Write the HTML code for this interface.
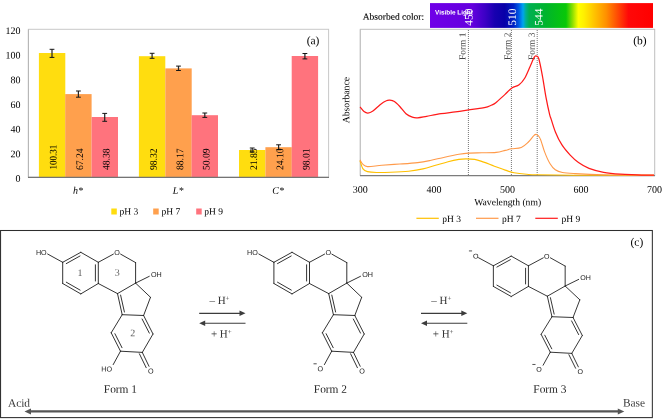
<!DOCTYPE html>
<html><head><meta charset="utf-8">
<title>Figure</title>
<style>
html,body{margin:0;padding:0;background:#fff;}
svg{display:block;will-change:transform;text-rendering:geometricPrecision;font-family:"Liberation Serif",serif;}
</style></head><body>
<svg width="670" height="419" viewBox="0 0 670 419">
<defs>
<linearGradient id="sp" x1="0" x2="1" y1="0" y2="0">
<stop offset="0" stop-color="#7000e8"/>
<stop offset="0.19" stop-color="#6400de"/>
<stop offset="0.25" stop-color="#3a00c4"/>
<stop offset="0.29" stop-color="#1800b0"/>
<stop offset="0.335" stop-color="#0800a8"/>
<stop offset="0.375" stop-color="#0020c4"/>
<stop offset="0.398" stop-color="#0058e4"/>
<stop offset="0.417" stop-color="#00a4f0"/>
<stop offset="0.43" stop-color="#00b090"/>
<stop offset="0.445" stop-color="#00b052"/>
<stop offset="0.52" stop-color="#00b42c"/>
<stop offset="0.61" stop-color="#08c808"/>
<stop offset="0.64" stop-color="#90e000"/>
<stop offset="0.665" stop-color="#ffff00"/>
<stop offset="0.69" stop-color="#fff000"/>
<stop offset="0.79" stop-color="#ff9000"/>
<stop offset="0.89" stop-color="#ff0808"/>
<stop offset="1" stop-color="#ff0000"/>
</linearGradient>
</defs>
<rect width="670" height="419" fill="#fff"/>
<!-- (a) bar chart -->
<rect x="28.4" y="29.3" width="300.2" height="148" fill="#fff" stroke="#c8c8c8" stroke-width="1"/>
<rect x="38.9" y="53.0" width="26.4" height="124.3" fill="#ffdd0f"/>
<path d="M52.0 49.3 V57.4" stroke="#262626" stroke-width="1.25" fill="none"/><path d="M49.6 49.3 h4.8 M49.6 57.4 h4.8" stroke="#161616" stroke-width="1" fill="none"/>
<text transform="translate(56.6,169.4) rotate(-89.95) scale(1,1.12)" font-size="9" text-anchor="start">100.31</text>
<rect x="65.2" y="94.1" width="26.4" height="83.2" fill="#ffa04d"/>
<path d="M78.4 91.0 V97.2" stroke="#262626" stroke-width="1.25" fill="none"/><path d="M76.0 91.0 h4.8 M76.0 97.2 h4.8" stroke="#161616" stroke-width="1" fill="none"/>
<text transform="translate(83.1,170.1) rotate(-89.95) scale(1,1.05)" font-size="9.6" text-anchor="start">67.24</text>
<rect x="91.6" y="117.0" width="26.4" height="60.3" fill="#ff737d"/>
<path d="M104.7 113.4 V121.3" stroke="#262626" stroke-width="1.25" fill="none"/><path d="M102.3 113.4 h4.8 M102.3 121.3 h4.8" stroke="#161616" stroke-width="1" fill="none"/>
<text transform="translate(109.4,170.1) rotate(-89.95) scale(1,1.05)" font-size="9.6" text-anchor="start">48.38</text>
<text transform="translate(78.0,193.7) rotate(0.05)" font-size="10" font-style="italic" text-anchor="middle">h*</text>
<rect x="138.9" y="56.2" width="26.4" height="121.1" fill="#ffdd0f"/>
<path d="M152.1 53.3 V58.3" stroke="#262626" stroke-width="1.25" fill="none"/><path d="M149.7 53.3 h4.8 M149.7 58.3 h4.8" stroke="#161616" stroke-width="1" fill="none"/>
<text transform="translate(156.8,170.1) rotate(-89.95) scale(1,1.05)" font-size="9.6" text-anchor="start">98.32</text>
<rect x="165.3" y="68.4" width="26.4" height="108.9" fill="#ffa04d"/>
<path d="M178.5 66.1 V70.5" stroke="#262626" stroke-width="1.25" fill="none"/><path d="M176.1 66.1 h4.8 M176.1 70.5 h4.8" stroke="#161616" stroke-width="1" fill="none"/>
<text transform="translate(183.2,170.1) rotate(-89.95) scale(1,1.05)" font-size="9.6" text-anchor="start">88.17</text>
<rect x="191.6" y="115.2" width="26.4" height="62.1" fill="#ff737d"/>
<path d="M204.8 113.0 V117.4" stroke="#262626" stroke-width="1.25" fill="none"/><path d="M202.4 113.0 h4.8 M202.4 117.4 h4.8" stroke="#161616" stroke-width="1" fill="none"/>
<text transform="translate(209.5,170.1) rotate(-89.95) scale(1,1.05)" font-size="9.6" text-anchor="start">50.09</text>
<text transform="translate(178.1,193.7) rotate(0.05)" font-size="10" font-style="italic" text-anchor="middle">L*</text>
<rect x="239.0" y="150.0" width="26.4" height="27.3" fill="#ffdd0f"/>
<path d="M252.2 148.0 V152.0" stroke="#262626" stroke-width="1.25" fill="none"/><path d="M249.8 148.0 h4.8 M249.8 152.0 h4.8" stroke="#161616" stroke-width="1" fill="none"/>
<text transform="translate(256.9,170.1) rotate(-89.95) scale(1,1.05)" font-size="9.6" text-anchor="start">21.85</text>
<rect x="265.4" y="147.2" width="26.4" height="30.1" fill="#ffa04d"/>
<path d="M278.6 144.8 V149.7" stroke="#262626" stroke-width="1.25" fill="none"/><path d="M276.2 144.8 h4.8 M276.2 149.7 h4.8" stroke="#161616" stroke-width="1" fill="none"/>
<text transform="translate(283.3,170.1) rotate(-89.95) scale(1,1.05)" font-size="9.6" text-anchor="start">24.10</text>
<rect x="291.7" y="56.0" width="26.4" height="121.3" fill="#ff737d"/>
<path d="M304.9 53.5 V58.9" stroke="#262626" stroke-width="1.25" fill="none"/><path d="M302.5 53.5 h4.8 M302.5 58.9 h4.8" stroke="#161616" stroke-width="1" fill="none"/>
<text transform="translate(309.6,170.1) rotate(-89.95) scale(1,1.05)" font-size="9.6" text-anchor="start">98.01</text>
<text transform="translate(278.2,193.7) rotate(0.05)" font-size="10" font-style="italic" text-anchor="middle">C*</text>
<path d="M28.4 29.5 V177.3" stroke="#b4b4b4" stroke-width="1"/>
<path d="M28 177.3 H329" stroke="#747474" stroke-width="1.3"/>
<text transform="translate(20.5,181.8) rotate(0.05)" font-size="10" text-anchor="end">0</text>
<text transform="translate(20.5,157.2) rotate(0.05)" font-size="10" text-anchor="end">20</text>
<text transform="translate(20.5,132.5) rotate(0.05)" font-size="10" text-anchor="end">40</text>
<text transform="translate(20.5,107.9) rotate(0.05)" font-size="10" text-anchor="end">60</text>
<text transform="translate(20.5,83.3) rotate(0.05)" font-size="10" text-anchor="end">80</text>
<text transform="translate(20.5,58.6) rotate(0.05)" font-size="10" text-anchor="end">100</text>
<text transform="translate(20.5,34.0) rotate(0.05)" font-size="10" text-anchor="end">120</text>
<text transform="translate(313,44.2) rotate(0.05)" font-size="11.5" text-anchor="middle">(a)</text>
<rect x="111.3" y="208.5" width="5.5" height="6" fill="#ffdd0f"/><text transform="translate(119.6,214.6) rotate(0.05)" font-size="9.5">pH 3</text>
<rect x="153.2" y="208.5" width="5.5" height="6" fill="#ffa04d"/><text transform="translate(161.6,214.6) rotate(0.05)" font-size="9.5">pH 7</text>
<rect x="196.2" y="208.5" width="5.5" height="6" fill="#ff737d"/><text transform="translate(204.2,214.6) rotate(0.05)" font-size="9.5">pH 9</text>
<!-- (b) spectra -->
<text transform="translate(362.7,19.8) rotate(0.05)" font-size="9.5" stroke="#000" stroke-width="0.12">Absorbed color:</text>
<rect x="430" y="3.1" width="223" height="24.8" fill="url(#sp)"/>
<text transform="translate(435,14.4) rotate(0.05)" font-family="Liberation Sans, sans-serif" font-weight="bold" font-size="6.4" fill="#fff">Visible Light</text>
<g font-size="11.5" fill="#fff">
<text transform="translate(472.5,25.7) rotate(-89.95)">450</text>
<text transform="translate(515.9,25.7) rotate(-89.95)">510</text>
<text transform="translate(542.4,25.7) rotate(-89.95)">544</text>
</g>
<rect x="360.3" y="29.3" width="294.4" height="146.2" fill="#fff" stroke="#bebebe" stroke-width="1"/>
<g stroke="#505050" stroke-width="0.8" stroke-dasharray="1 1" fill="none">
<path d="M468.4 30 V175.5"/><path d="M511.4 30 V175.5"/><path d="M537.2 30 V175.5"/>
</g>
<g font-size="9.4" fill="#444">
<text transform="translate(465.4,32.6) rotate(-89.95)" text-anchor="end">Form 1</text>
<text transform="translate(510.4,32.6) rotate(-89.95)" text-anchor="end">Form 2</text>
<text transform="translate(534.8,32.6) rotate(-89.95)" text-anchor="end">Form 3</text>
</g>
<path d="M360.3 29.5 V175.5" stroke="#c4c4c4" stroke-width="1"/>
<path d="M360 175.6 H655" stroke="#7c7c7c" stroke-width="1.4"/>
<path d="M360.0 160.8 C360.5 162.2 361.8 167.1 363.0 168.9 C364.2 170.7 365.2 171.0 367.5 171.6 C369.8 172.2 372.6 172.4 376.5 172.5 C380.4 172.6 385.4 172.5 390.8 172.3 C396.2 172.1 403.3 171.8 408.7 171.2 C414.1 170.6 418.5 169.9 423.0 168.9 C427.5 167.9 431.4 166.5 435.6 165.3 C439.8 164.1 444.2 162.7 448.1 161.7 C452.0 160.7 455.9 159.9 458.9 159.4 C461.9 158.9 463.4 158.9 466.0 158.9 C468.6 158.9 471.8 158.9 474.7 159.4 C477.6 159.9 480.4 161.0 483.7 162.1 C487.0 163.2 490.8 164.9 494.4 166.2 C498.0 167.5 501.9 169.0 505.2 170.1 C508.5 171.2 510.5 172.1 514.1 172.8 C517.7 173.5 522.7 174.0 526.6 174.3 C530.5 174.6 529.3 174.7 537.4 174.8 C545.5 175.0 555.6 175.1 575.0 175.2 C594.4 175.3 640.8 175.3 654.0 175.3" fill="none" stroke="#ffc000" stroke-width="1.15"/>
<path d="M360.0 159.9 C360.5 160.7 361.8 163.3 363.0 164.4 C364.2 165.5 364.4 166.4 367.5 166.6 C370.6 166.8 376.5 165.7 381.9 165.3 C387.3 164.9 393.8 164.4 399.8 164.0 C405.8 163.6 412.6 163.2 417.7 162.6 C422.8 162.0 425.7 161.4 430.2 160.5 C434.7 159.6 439.8 158.2 444.6 157.2 C449.4 156.1 454.9 154.9 458.9 154.2 C462.9 153.5 464.6 153.3 468.4 153.1 C472.2 152.9 477.3 152.9 481.9 152.8 C486.5 152.7 492.3 152.8 496.2 152.4 C500.1 152.0 502.6 151.0 505.2 150.4 C507.8 149.8 508.9 149.3 511.6 148.8 C514.3 148.3 518.5 148.5 521.3 147.4 C524.1 146.3 526.3 143.9 528.4 142.0 C530.5 140.1 532.4 136.9 533.8 135.7 C535.1 134.4 535.5 134.1 536.5 134.5 C537.5 134.9 538.8 135.5 540.1 138.4 C541.5 141.3 543.0 147.7 544.6 151.9 C546.2 156.1 548.1 160.5 549.9 163.5 C551.7 166.5 553.2 168.3 555.3 169.8 C557.4 171.3 559.2 171.9 562.5 172.5 C565.8 173.1 568.1 173.2 575.0 173.6 C581.9 174.0 590.4 174.5 603.6 174.8 C616.8 175.1 645.6 175.1 654.0 175.2" fill="none" stroke="#ff9a4a" stroke-width="1.1"/>
<path d="M360.0 106.9 C360.7 107.7 362.7 110.5 364.0 111.5 C365.3 112.5 366.4 113.2 367.9 113.1 C369.4 113.0 370.9 112.4 372.9 111.0 C374.9 109.6 377.9 106.4 380.1 104.7 C382.3 103.0 384.7 101.5 386.3 100.8 C387.9 100.0 388.5 100.1 389.9 100.2 C391.2 100.3 392.8 100.5 394.4 101.5 C396.0 102.5 397.9 104.5 399.8 106.5 C401.7 108.5 403.9 111.9 406.0 113.7 C408.1 115.5 410.4 116.5 412.3 117.2 C414.2 117.9 415.3 118.0 417.7 117.8 C420.1 117.6 422.7 117.0 426.6 116.3 C430.5 115.6 436.2 114.4 441.0 113.7 C445.8 113.0 450.7 112.5 455.3 111.9 C459.9 111.3 464.6 110.5 468.4 109.9 C472.2 109.4 475.5 108.9 477.9 108.6 C480.3 108.3 481.4 108.2 483.0 107.9 C484.6 107.6 486.0 107.3 487.5 106.8 C489.0 106.3 490.4 105.7 491.8 105.0 C493.2 104.3 493.6 104.4 495.8 102.7 C498.0 101.0 502.1 97.0 504.8 94.6 C507.5 92.1 509.5 89.6 511.9 88.0 C514.3 86.4 517.0 86.4 519.1 84.8 C521.2 83.2 522.7 81.5 524.5 78.5 C526.3 75.5 528.3 70.5 529.9 66.9 C531.5 63.4 533.2 59.0 534.3 57.2 C535.4 55.4 535.5 55.8 536.3 56.1 C537.0 56.4 537.8 55.5 538.8 58.8 C539.8 62.1 541.2 69.4 542.4 75.8 C543.6 82.2 544.8 90.9 546.0 97.3 C547.2 103.7 548.7 110.6 549.6 114.3 C550.5 118.0 550.3 116.6 551.3 119.6 C552.3 122.6 553.8 128.0 555.5 132.2 C557.2 136.4 559.3 140.9 561.8 144.7 C564.2 148.5 567.4 152.1 570.2 155.1 C573.0 158.1 575.4 160.3 578.5 162.5 C581.6 164.7 584.8 166.7 589.0 168.3 C593.2 169.9 598.4 171.3 603.6 172.3 C608.8 173.3 614.7 173.8 620.3 174.2 C625.9 174.6 631.4 174.6 637.0 174.8 C642.6 175.0 651.2 175.1 654.0 175.2" fill="none" stroke="#ff1a1a" stroke-width="1.25"/>
<text transform="translate(639.9,44.3) rotate(0.05)" font-size="11.5" text-anchor="middle">(b)</text>
<text transform="translate(349.3,100.1) rotate(-89.95)" font-size="9.7" text-anchor="middle">Absorbance</text>
<g font-size="10" text-anchor="middle">
<text transform="translate(360.2,192.7) rotate(0.05)">300</text><text transform="translate(433.9,192.7) rotate(0.05)">400</text><text transform="translate(507.5,192.7) rotate(0.05)">500</text><text transform="translate(581,192.7) rotate(0.05)">600</text><text transform="translate(654.6,192.7) rotate(0.05)">700</text>
</g>
<text transform="translate(507.7,205.2) rotate(0.05)" font-size="9.65" text-anchor="middle">Wavelength (nm)</text>
<path d="M416.4 218.3 H438.8" stroke="#ffc000" stroke-width="1.2"/><text transform="translate(442.2,221.9) rotate(0.05)" font-size="9.5">pH 3</text>
<path d="M476 218.3 H498.5" stroke="#ff9a4a" stroke-width="1.2"/><text transform="translate(502,221.9) rotate(0.05)" font-size="9.5">pH 7</text>
<path d="M535.3 218.3 H557.8" stroke="#ff1a1a" stroke-width="1.2"/><text transform="translate(561.4,221.9) rotate(0.05)" font-size="9.5">pH 9</text>
<!-- (c) -->
<rect x="0.55" y="230.5" width="651.8" height="187.1" fill="none" stroke="#2e2e2e" stroke-width="1.05"/>
<text transform="translate(636.9,245.8) rotate(0.05)" font-size="11.4" text-anchor="middle">(c)</text>
<g transform="translate(0.00,0.00) scale(1.000,1.000)" stroke="#1c1c1c" stroke-width="0.9" fill="none" stroke-linecap="round"><path d="M62.7 262.3 L80.8 252.3"/><path d="M80.8 252.3 L98.3 262.3"/><path d="M98.3 262.3 L98.3 283.5"/><path d="M98.3 283.5 L80.8 293.9"/><path d="M80.8 293.9 L62.7 283.5"/><path d="M62.7 283.5 L62.7 262.3"/><path d="M66.3 263.6 L80.0 256.0"/><path d="M95.4 264.8 L95.4 281.0"/><path d="M80.1 290.1 L66.3 282.2"/><path d="M98.3 262.3 L113.4 254.1"/><path d="M120.6 254.1 L135.6 262.6"/><path d="M135.6 262.6 L135.6 283.1"/><path d="M135.6 283.1 L117.5 293.6"/><path d="M117.5 293.6 L98.3 283.5"/><path d="M135.6 283.1 L150.5 297.3"/><path d="M150.5 297.3 L143.6 315.5"/><path d="M143.6 315.5 L122.2 314.7"/><path d="M122.2 314.7 L117.5 293.6"/><path d="M124.4 312.0 L120.6 295.1"/><path d="M143.6 315.5 L153.0 334.0"/><path d="M153.0 334.0 L142.3 352.4"/><path d="M142.3 352.4 L120.5 351.2"/><path d="M120.5 351.2 L111.2 332.8"/><path d="M111.2 332.8 L122.2 314.7"/><path d="M142.1 319.0 L149.3 333.1"/><path d="M122.0 347.7 L114.9 333.7"/><path d="M135.6 283.1 L149.3 276.3"/><path d="M142.3 352.4 L149.0 366.3"/><path d="M139.4 353.8 L146.2 367.7"/><path d="M120.5 351.2 L113.2 364.6"/><path d="M62.7 262.3 L47.6 254.0"/></g><g transform="translate(0.00,0.00) scale(1.000,1.000)" font-family="Liberation Sans, sans-serif" font-size="7.2" fill="#222"><text transform="translate(117.0,255.0) rotate(0.05)" text-anchor="middle">O</text><text transform="translate(151.0,276.9) rotate(0.05)">OH</text><text transform="translate(150.8,373.6) rotate(0.05)" text-anchor="middle">O</text><text transform="translate(46.7,254.9) rotate(0.05)" text-anchor="end">HO</text><text transform="translate(112.1,371.5) rotate(0.05)" text-anchor="end">HO</text></g><g font-size="10" fill="#606060" text-anchor="middle"><text transform="translate(80,275.9) rotate(0.05)">1</text><text transform="translate(117.3,275.8) rotate(0.05)">3</text><text transform="translate(132.7,336.2) rotate(0.05)">2</text></g><g transform="translate(211.20,0.00) scale(1.000,1.000)" stroke="#1c1c1c" stroke-width="0.9" fill="none" stroke-linecap="round"><path d="M62.7 262.3 L80.8 252.3"/><path d="M80.8 252.3 L98.3 262.3"/><path d="M98.3 262.3 L98.3 283.5"/><path d="M98.3 283.5 L80.8 293.9"/><path d="M80.8 293.9 L62.7 283.5"/><path d="M62.7 283.5 L62.7 262.3"/><path d="M66.3 263.6 L80.0 256.0"/><path d="M95.4 264.8 L95.4 281.0"/><path d="M80.1 290.1 L66.3 282.2"/><path d="M98.3 262.3 L113.4 254.1"/><path d="M120.6 254.1 L135.6 262.6"/><path d="M135.6 262.6 L135.6 283.1"/><path d="M135.6 283.1 L117.5 293.6"/><path d="M117.5 293.6 L98.3 283.5"/><path d="M135.6 283.1 L150.5 297.3"/><path d="M150.5 297.3 L143.6 315.5"/><path d="M143.6 315.5 L122.2 314.7"/><path d="M122.2 314.7 L117.5 293.6"/><path d="M124.4 312.0 L120.6 295.1"/><path d="M143.6 315.5 L153.0 334.0"/><path d="M153.0 334.0 L142.3 352.4"/><path d="M142.3 352.4 L120.5 351.2"/><path d="M120.5 351.2 L111.2 332.8"/><path d="M111.2 332.8 L122.2 314.7"/><path d="M142.1 319.0 L149.3 333.1"/><path d="M122.0 347.7 L114.9 333.7"/><path d="M135.6 283.1 L149.3 276.3"/><path d="M142.3 352.4 L149.0 366.3"/><path d="M139.4 353.8 L146.2 367.7"/><path d="M120.5 351.2 L113.2 364.6"/><path d="M62.7 262.3 L47.6 254.0"/></g><g transform="translate(211.20,0.00) scale(1.000,1.000)" font-family="Liberation Sans, sans-serif" font-size="7.2" fill="#222"><text transform="translate(117.0,255.0) rotate(0.05)" text-anchor="middle">O</text><text transform="translate(151.0,276.9) rotate(0.05)">OH</text><text transform="translate(150.8,373.6) rotate(0.05)" text-anchor="middle">O</text><text transform="translate(46.7,254.9) rotate(0.05)" text-anchor="end">HO</text><text transform="translate(111.9,371.3) rotate(0.05)" text-anchor="end">O</text><path d="M102.3 363.8 h3.2" stroke="#222" stroke-width="0.8"/></g><g transform="translate(431.60,10.84) scale(0.985,0.972)" stroke="#1c1c1c" stroke-width="0.9" fill="none" stroke-linecap="round"><path d="M62.7 262.3 L80.8 252.3"/><path d="M80.8 252.3 L98.3 262.3"/><path d="M98.3 262.3 L98.3 283.5"/><path d="M98.3 283.5 L80.8 293.9"/><path d="M80.8 293.9 L62.7 283.5"/><path d="M62.7 283.5 L62.7 262.3"/><path d="M66.3 263.6 L80.0 256.0"/><path d="M95.4 264.8 L95.4 281.0"/><path d="M80.1 290.1 L66.3 282.2"/><path d="M98.3 262.3 L113.4 254.1"/><path d="M120.6 254.1 L135.6 262.6"/><path d="M135.6 262.6 L135.6 283.1"/><path d="M135.6 283.1 L117.5 293.6"/><path d="M117.5 293.6 L98.3 283.5"/><path d="M135.6 283.1 L150.5 297.3"/><path d="M150.5 297.3 L143.6 315.5"/><path d="M143.6 315.5 L122.2 314.7"/><path d="M122.2 314.7 L117.5 293.6"/><path d="M124.4 312.0 L120.6 295.1"/><path d="M143.6 315.5 L153.0 334.0"/><path d="M153.0 334.0 L142.3 352.4"/><path d="M142.3 352.4 L120.5 351.2"/><path d="M120.5 351.2 L111.2 332.8"/><path d="M111.2 332.8 L122.2 314.7"/><path d="M142.1 319.0 L149.3 333.1"/><path d="M122.0 347.7 L114.9 333.7"/><path d="M135.6 283.1 L149.3 276.3"/><path d="M142.3 352.4 L149.0 366.3"/><path d="M139.4 353.8 L146.2 367.7"/><path d="M120.5 351.2 L113.2 364.6"/><path d="M62.7 262.3 L47.6 254.0"/></g><g transform="translate(431.60,10.84) scale(0.985,0.972)" font-family="Liberation Sans, sans-serif" font-size="7.2" fill="#222"><text transform="translate(117.0,255.0) rotate(0.05)" text-anchor="middle">O</text><text transform="translate(151.0,276.9) rotate(0.05)">OH</text><text transform="translate(150.8,373.6) rotate(0.05)" text-anchor="middle">O</text><text transform="translate(47.5,254.7) rotate(0.05)" text-anchor="end">O</text><path d="M37.9 247 h3.2" stroke="#222" stroke-width="0.8"/><text transform="translate(111.9,371.3) rotate(0.05)" text-anchor="end">O</text><path d="M102.3 363.8 h3.2" stroke="#222" stroke-width="0.8"/></g><g stroke="#3c3c3c" stroke-width="1.15" fill="#3c3c3c"><path d="M199.2 313.3 H240.2" fill="none"/><path d="M245.5 313.3 l-6 -2.8 v5.6 z" stroke="none"/><path d="M204.2 323.2 H245.5" fill="none"/><path d="M199.2 323.2 l6 -2.8 v5.6 z" stroke="none"/></g><g font-size="11" fill="#333"><text transform="translate(209.4,303.9) rotate(0.05)">– H<tspan font-size="7" dy="-3.4">+</tspan></text><text transform="translate(210.9,337.5) rotate(0.05)">+ H<tspan font-size="7" dy="-3.4">+</tspan></text></g><g stroke="#3c3c3c" stroke-width="1.15" fill="#3c3c3c"><path d="M421.0 313.3 H462.0" fill="none"/><path d="M467.3 313.3 l-6 -2.8 v5.6 z" stroke="none"/><path d="M426.0 323.2 H467.3" fill="none"/><path d="M421.0 323.2 l6 -2.8 v5.6 z" stroke="none"/></g><g font-size="11" fill="#333"><text transform="translate(431.2,303.9) rotate(0.05)">– H<tspan font-size="7" dy="-3.4">+</tspan></text><text transform="translate(432.7,337.5) rotate(0.05)">+ H<tspan font-size="7" dy="-3.4">+</tspan></text></g>
<g font-size="11.4" fill="#262626" text-anchor="middle">
<text transform="translate(120.4,392.7) rotate(0.05)">Form 1</text><text transform="translate(330.4,392.7) rotate(0.05)">Form 2</text><text transform="translate(549.9,392.7) rotate(0.05)">Form 3</text>
</g>
<text transform="translate(7.9,406.7) rotate(0.05)" font-size="11.4" fill="#3a3a3a">Acid</text>
<text transform="translate(622.9,406.5) rotate(0.05)" font-size="11.4" fill="#3a3a3a">Base</text>
<path d="M30 411.4 H619" stroke="#555" stroke-width="2.3"/>
<path d="M24.5 411.4 l6.5 -3 v6 z M624.3 411.4 l-6.5 -3 v6 z" fill="#555"/>
</svg>
</body></html>
